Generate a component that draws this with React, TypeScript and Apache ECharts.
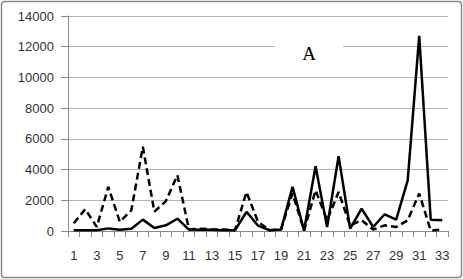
import React, { useEffect, useRef } from "react";
import * as echarts from "echarts";

const categories = Array.from({ length: 33 }, (_, i) => String(i + 1));
const solidValues = [50, 50, 50, 170, 80, 150, 740, 200, 370, 800, 90, 80, 80, 50, 50, 1250, 350, 50, 90, 2880, 30, 4220, 260, 4870, 160, 1460, 260, 1090, 740, 3300, 12710, 740, 700];
const dashedValues = [500, 1420, 270, 2870, 600, 1350, 5480, 1260, 1950, 3630, 120, 150, 100, 100, 50, 2540, 600, 50, 100, 2450, 30, 2650, 700, 2540, 350, 700, 90, 370, 260, 700, 2440, 30, 90];
const yTicks = { min: 0, max: 14000, interval: 2000 };
const panelLabel = "A";

export default function App() {
  const ref = useRef<HTMLDivElement>(null);
  useEffect(() => {
    if (!ref.current) return;
    const chart = echarts.init(ref.current, null, { renderer: "svg" });
    chart.setOption({
      animation: false,
      backgroundColor: "#ffffff",
      grid: { left: 68, right: 15, top: 16, bottom: 48, containLabel: false },
      xAxis: {
        type: "category",
        data: categories,
        boundaryGap: true,
        axisLine: { lineStyle: { color: "#8c8c8c", width: 1 } },
        axisTick: { show: true, length: 6, lineStyle: { color: "#8c8c8c" }, interval: 0 },
        axisLabel: {
          interval: 1,
          margin: 18,
          fontFamily: "Liberation Sans",
          fontSize: 13,
          color: "#333333",
        },
        splitLine: { show: false },
      },
      yAxis: {
        type: "value",
        min: yTicks.min,
        max: yTicks.max,
        interval: yTicks.interval,
        axisLine: { show: true, lineStyle: { color: "#8c8c8c", width: 1 } },
        axisTick: { show: true, length: 7, lineStyle: { color: "#8c8c8c" } },
        axisLabel: {
          margin: 14,
          fontFamily: "Liberation Sans",
          fontSize: 13,
          color: "#333333",
          formatter: (v: number) => String(v),
        },
        splitLine: { show: true, lineStyle: { color: "#b4b4b4", width: 1 } },
      },
      series: [
        {
          type: "line",
          data: dashedValues,
          symbol: "none",
          lineStyle: { color: "#000000", width: 2.5, type: [7, 4] },
          z: 2,
        },
        {
          type: "line",
          data: solidValues,
          symbol: "none",
          lineStyle: { color: "#000000", width: 2.5 },
          z: 3,
        },
      ],
      graphic: [
        {
          type: "rect",
          shape: { x: 275, y: 26, width: 68, height: 44 },
          style: { fill: "#ffffff" },
          z: 100,
        },
        {
          type: "text",
          x: 309,
          y: 53,
          style: {
            text: panelLabel,
            fontFamily: "Liberation Serif",
            fontSize: 19,
            fill: "#000000",
            align: "center",
            verticalAlign: "middle",
          },
          z: 101,
        },
        {
          type: "rect",
          shape: { x: 1.5, y: 1.5, width: 460, height: 276, r: 3 },
          style: { fill: "none", stroke: "#8a8a8a", lineWidth: 1.5 },
          z: 102,
        },
      ],
    });
    return () => chart.dispose();
  }, []);
  return (
    <div
      ref={ref}
      style={{ position: "absolute", left: 0, top: 0, width: 463, height: 279 }}
    />
  );
}
